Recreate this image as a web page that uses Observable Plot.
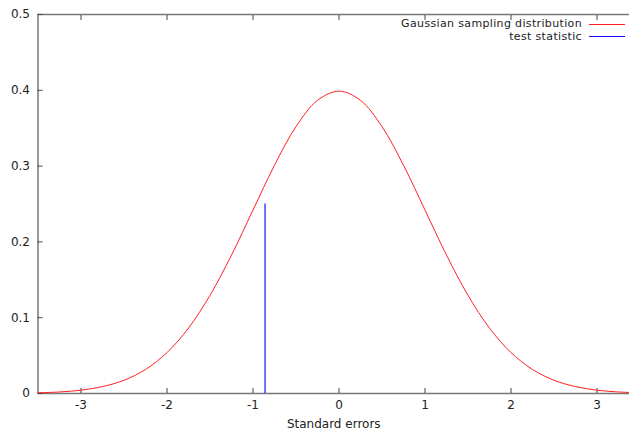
<!DOCTYPE html>
<html><head><meta charset="utf-8">
<script src="https://cdn.jsdelivr.net/npm/d3@7"></script>
<script src="https://cdn.jsdelivr.net/npm/@observablehq/plot@0.6"></script>
<style>body{margin:0;background:#fff} svg{display:block}</style>
</head><body><div id="chart"></div>
<script>
// values
const zValues = [-3.5,-3.25,-3,-2.75,-2.5,-2.25,-2,-1.75,-1.5,-1.25,-1,-0.75,-0.5,-0.25,0,0.25,0.5,0.75,1,1.25,1.5,1.75,2,2.25,2.5,2.75,3,3.25,3.5];
const density = [0.001,0.002,0.0044,0.0091,0.0175,0.0317,0.054,0.0863,0.1295,0.1826,0.242,0.3011,0.3521,0.3867,0.3989,0.3867,0.3521,0.3011,0.242,0.1826,0.1295,0.0863,0.054,0.0317,0.0175,0.0091,0.0044,0.002,0.001];
const xTicks = [-3,-2,-1,0,1,2,3];
const yTicks = [0,0.1,0.2,0.3,0.4,0.5];
const testStatistic = [-0.86];
const testHeight = 0.25;
const seriesNames = ["Gaussian sampling distribution","test statistic"];
const seriesColors = ["#ff2020","#1010ff"];
const xLabel = "Standard errors";

const curve = zValues.map((z,i)=>({z, d: density[i]}));
const axisColor = "#777";
const fmt = d => String(d);

const plot = Plot.plot({
  width: 629, height: 430,
  marginLeft: 37.5, marginRight: 0, marginTop: 14, marginBottom: 37,
  style: {fontFamily: "DejaVu Sans", fontSize: "12px", color: "#222", background: "#fff", overflow: "hidden"},
  x: {domain: [-3.5, 3.5], range: [37.5, 639.5]},
  y: {domain: [0, 0.5]},
  marks: [
    Plot.ruleY([0, 0.5], {stroke: axisColor, strokeWidth: 1.5}),
    Plot.ruleX([-3.5], {stroke: axisColor, strokeWidth: 1.5}),
    // inward ticks
    Plot.axisX(xTicks, {anchor: "bottom", tickSize: 5, dy: -5, tickFormat: () => "", label: null, stroke: "#444"}),
    Plot.axisX(xTicks, {anchor: "top", tickSize: 5, dy: 5, tickFormat: () => "", label: null, stroke: "#444"}),
    Plot.axisY(yTicks, {anchor: "left", tickSize: 5, dx: 5, tickFormat: () => "", label: null, stroke: "#444"}),
    // labels
    Plot.axisX(xTicks, {anchor: "bottom", tickSize: 0, tickPadding: 7, tickFormat: fmt, label: xLabel, labelAnchor: "center", labelArrow: false, labelOffset: 34, fill: "#222"}),
    Plot.axisY(yTicks, {anchor: "left", tickSize: 0, tickPadding: 8, tickFormat: fmt, label: null, fill: "#222"}),
    Plot.line(curve, {x: "z", y: "d", stroke: seriesColors[0], strokeWidth: 1, curve: "catmull-rom"}),
    Plot.ruleX(testStatistic, {y1: 0, y2: testHeight, stroke: seriesColors[1], strokeWidth: 1.2})
  ]
});
document.getElementById("chart").append(plot);

// legend (top right, gnuplot style)
const svg = d3.select(plot);
const lg = svg.append("g").attr("font-family", "DejaVu Sans").attr("font-size", 11).attr("letter-spacing", "0.35px").attr("fill", "#222");
seriesNames.forEach((name, i) => {
  const y = 23.5 + i * 13;
  lg.append("text").attr("x", 582).attr("y", y).attr("dy", "0.32em").attr("text-anchor", "end").text(name);
  lg.append("line").attr("x1", 589).attr("x2", 625).attr("y1", 24.5 + i * 12).attr("y2", 24.5 + i * 12).attr("stroke", seriesColors[i]).attr("stroke-width", 1.2);
});
</script>
</body></html>
